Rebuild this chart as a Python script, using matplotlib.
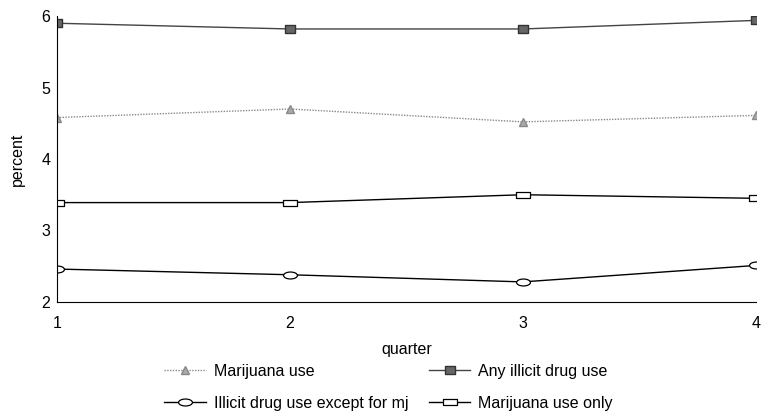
import numpy as np
import matplotlib.pyplot as plt
from matplotlib.path import Path
from matplotlib.transforms import Affine2D

plt.rcParams['font.family'] = ['Liberation Sans', 'DejaVu Sans']
plt.rcParams['font.size'] = 11.5

quarters = [1, 2, 3, 4]
marijuana = [4.58, 4.70, 4.52, 4.61]
any_illicit = [5.90, 5.82, 5.82, 5.94]
except_mj = [2.46, 2.38, 2.28, 2.51]
mj_only = [3.39, 3.39, 3.50, 3.45]

# custom marker shapes: flat ellipse, flat rectangle, wide square
ellipse = Path.unit_circle().transformed(Affine2D().scale(2.0, 1.0))
rect = Path([(-1.7, -0.8), (1.7, -0.8), (1.7, 0.8), (-1.7, 0.8), (-1.7, -0.8)],
            [Path.MOVETO, Path.LINETO, Path.LINETO, Path.LINETO, Path.CLOSEPOLY])
wide_sq = Path([(-1.4, -1), (1.4, -1), (1.4, 1), (-1.4, 1), (-1.4, -1)],
               [Path.MOVETO, Path.LINETO, Path.LINETO, Path.LINETO, Path.CLOSEPOLY])

fig = plt.figure(figsize=(7.61, 4.13), dpi=100)
ax = fig.add_axes([0.075, 0.269, 0.918, 0.692])

h1, = ax.plot(quarters, marijuana, linestyle=(0, (1, 1)), color='#888888', lw=1,
              marker='^', markersize=6, markerfacecolor='#aaaaaa', markeredgecolor='#888888',
              label='Marijuana use')
h2, = ax.plot(quarters, any_illicit, linestyle='-', color='#444444', lw=1,
              marker=wide_sq, markersize=7.5, markerfacecolor='#666666', markeredgecolor='#333333',
              label='Any illicit drug use')
h3, = ax.plot(quarters, except_mj, linestyle='-', color='black', lw=1,
              marker=ellipse, markersize=10, markerfacecolor='white', markeredgecolor='black',
              markeredgewidth=0.9, label='Illicit drug use except for mj')
h4, = ax.plot(quarters, mj_only, linestyle='-', color='black', lw=1,
              marker=rect, markersize=10, markerfacecolor='white', markeredgecolor='black',
              markeredgewidth=0.9, label='Marijuana use only')

ax.set_xlim(1, 4)
ax.set_ylim(2, 6)
ax.set_xticks([1, 2, 3, 4])
ax.set_yticks([2, 3, 4, 5, 6])
ax.tick_params(length=0, labelsize=11.5)
ax.tick_params(axis='x', pad=10)
ax.tick_params(axis='y', pad=5)
for s in ['top', 'right']:
    ax.spines[s].set_visible(False)
ax.set_xlabel('quarter', fontsize=11.5, labelpad=8)
ax.set_ylabel('percent', fontsize=11.5, labelpad=12)

# column-wise fill -> order so rows read: (mj, any), (except, only)
fig.legend([h1, h3, h2, h4], [h.get_label() for h in [h1, h3, h2, h4]],
           loc='upper left', bbox_to_anchor=(164 / 761, 1 - 364 / 413), ncol=2,
           frameon=False, fontsize=11.5, handlelength=2.6, handletextpad=0.5,
           columnspacing=1.3, labelspacing=1.05, borderpad=0, borderaxespad=0)

fig.savefig('out.png', dpi=100)
